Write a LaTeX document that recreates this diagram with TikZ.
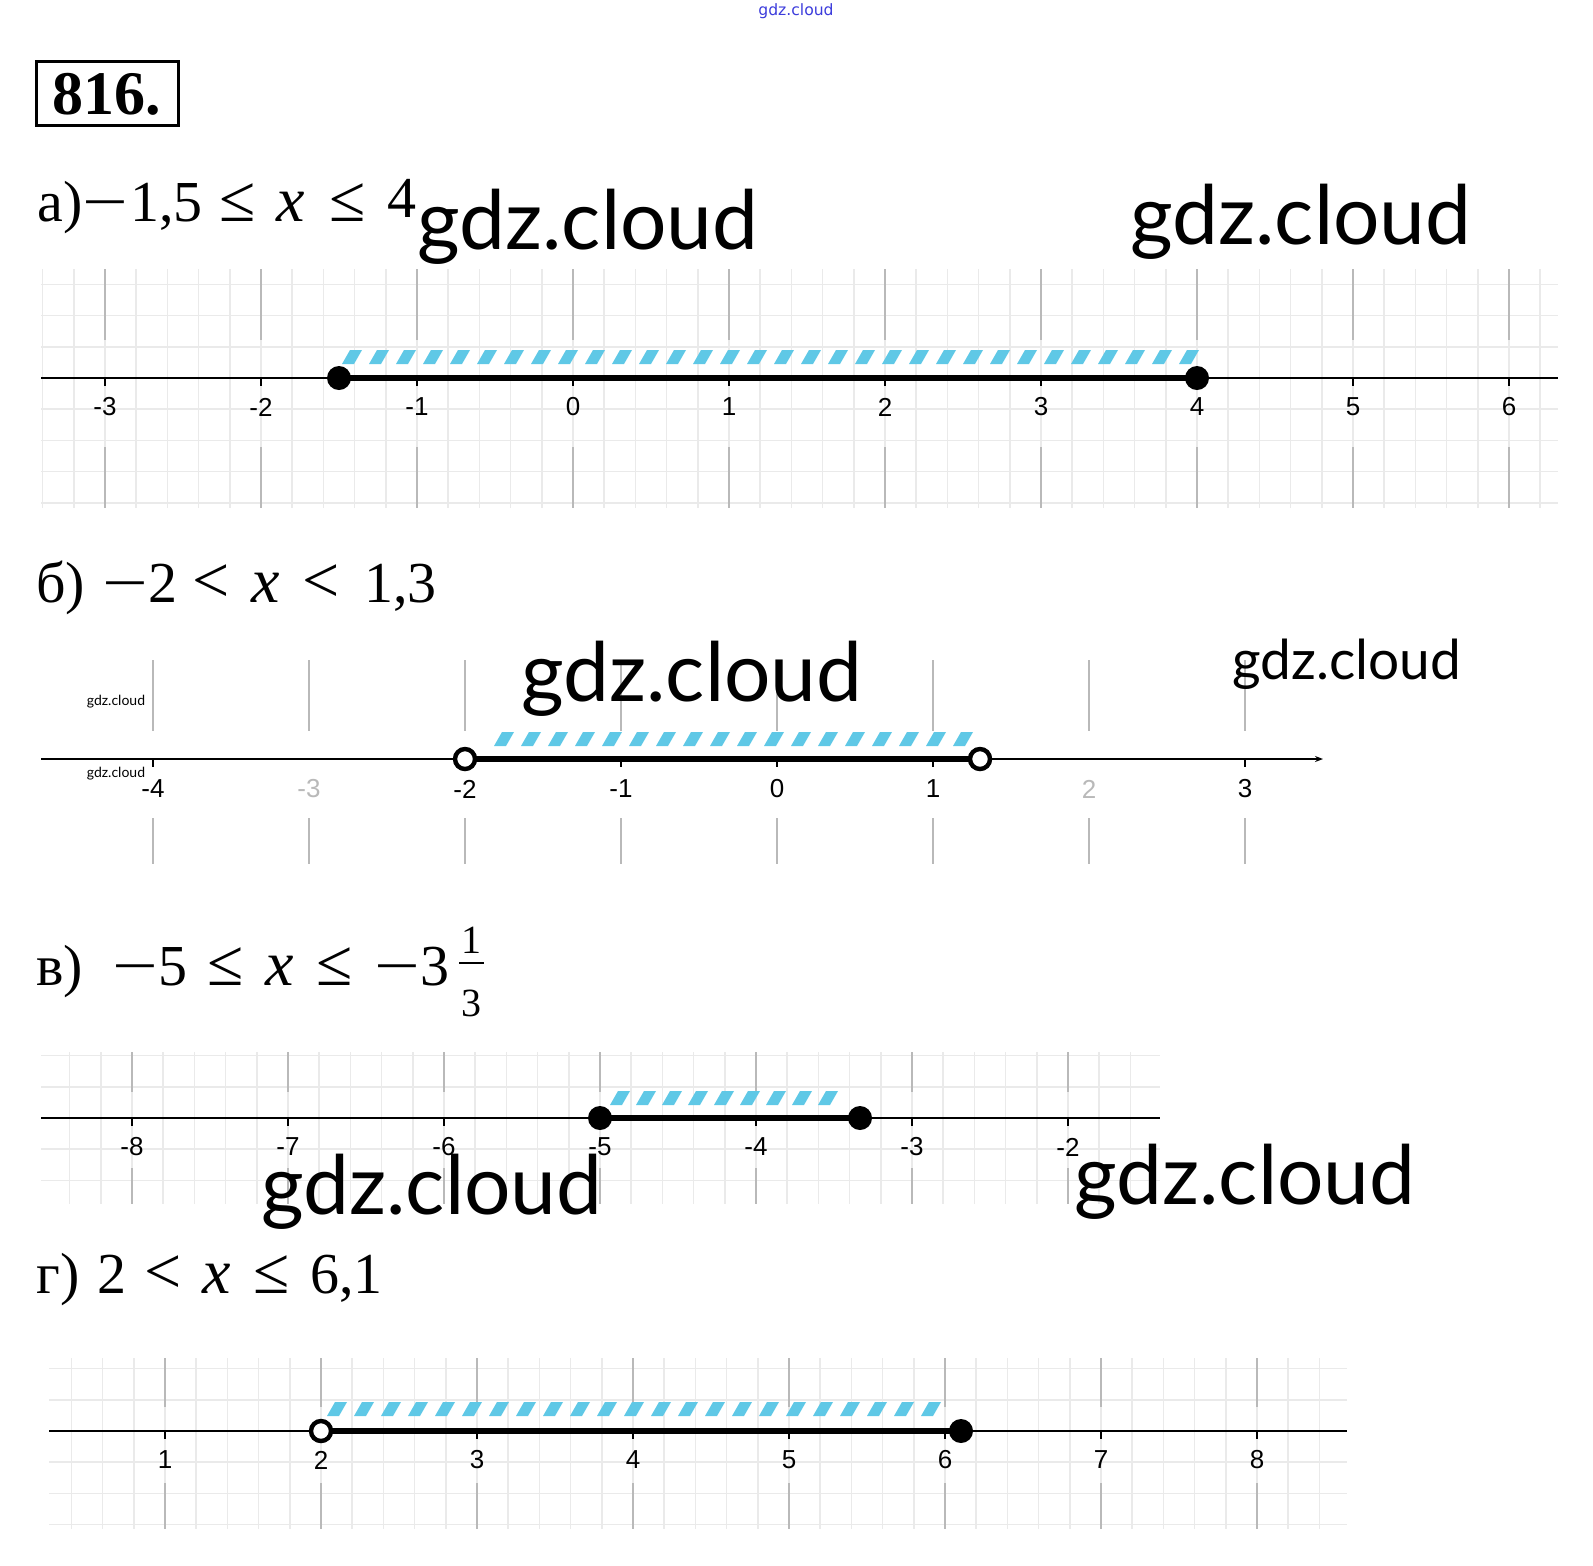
\documentclass[tikz,border=0pt]{standalone}
\usepackage{fontspec}
\usepackage{graphicx}
\setmainfont{Liberation Serif}
\newfontfamily\wmf{Lato}
\newfontfamily\labf{Liberation Sans}
\newfontfamily\topf{DejaVu Sans}
\usetikzlibrary{arrows.meta}
\definecolor{hatchc}{RGB}{95,200,230}
\definecolor{minorc}{RGB}{234,234,234}
\definecolor{majorc}{RGB}{185,185,185}
\definecolor{topblue}{RGB}{60,60,220}
\newcommand\wmin{\scalebox{1.4}[1]{−}}
\newcommand\gridbox[6]{%
  \begin{scope}
    \clip (#1,#3) rectangle (#2,#4);
    \foreach \k in {-60,...,60} \draw[minorl] ({#6+\k*31.2},#3) -- ({#6+\k*31.2},#4);
    \foreach \k in {-6,...,6} \draw[minorl] (#1,{#5+\k*31.2}) -- (#2,{#5+\k*31.2});
  \end{scope}}
% #1 spacing, #2 y, #3 first dash x, #4 number of dashes-1
\newcommand\hatchrow[4]{%
  \foreach \i in {0,...,#4} {%
    \pgfmathsetmacro\hx{#3+#1*\i}
    \fill[hatchc] (\hx,#2+7) -- (\hx+12,#2+7) -- (\hx+20,#2-7) -- (\hx+8,#2-7) -- cycle;
  }}
\begin{document}
\begin{tikzpicture}[x=0.5pt,y=-0.5pt,
  minorl/.style={draw=minorc,line width=0.75pt},
  majorl/.style={draw=majorc,line width=1.4pt},
  axisl/.style={draw=black,line width=1.4pt},
  segl/.style={draw=black,line width=2.8pt},
  tickl/.style={draw=black,line width=1pt},
  lbl/.style={font=\labf\fontsize{13pt}{14pt}\selectfont,inner sep=0pt},
  hd/.style={font=\fontsize{29pt}{32pt}\selectfont,inner sep=0pt,anchor=base west},
  hrel/.style={font=\fontsize{33pt}{36pt}\selectfont,inner sep=0pt,anchor=base west},
  hx/.style={font=\itshape\fontsize{32pt}{36pt}\selectfont,inner sep=0pt,anchor=base west},
  wm/.style={font=\wmf\fontsize{41pt}{44pt}\selectfont,inner sep=0pt,anchor=base west},
  fdot/.style={circle,fill=black,inner sep=0pt,minimum size=12pt},
  odot/.style={circle,draw=black,fill=white,line width=2.2pt,inner sep=0pt,minimum size=10pt}]
\useasboundingbox (0,0) rectangle (1593,1565);
\fill[white] (0,0) rectangle (1593,1565);

% top watermark
\node[font=\topf\fontsize{7.8pt}{9pt}\selectfont,text=topblue,inner sep=0pt] (wtop) at (796,11) {gdz.cloud};

% header box
\draw[line width=1.5pt] (36,61) rectangle (178,125);
\node[font=\bfseries\fontsize{31pt}{34pt}\selectfont,inner sep=0pt] (num) at (107,94) {816.};

% ---------- panel a ----------
\node[hd] (ha1) at (37,221) {а)};
\node[hd] (ha2) at (82,221) {\wmin};
\node[hd] (ha3) at (130,221) {1,5};
\node[hrel] (ha4) at (219,221) {≤};
\node[hx] (ha5) at (276,221) {x};
\node[hrel] (ha6) at (329,221) {≤};
\node[hd] (ha7) at (387,217) {4};
\gridbox{41}{1558}{269}{508}{378}{573}
\foreach \v in {-3,...,6} {
  \draw[majorl] ({573+\v*156},269) -- ({573+\v*156},340);
  \draw[majorl] ({573+\v*156},447) -- ({573+\v*156},508);
}
\draw[axisl] (41,378) -- (1558,378);
\foreach \v in {-3,...,6} {
  \draw[tickl] ({573+\v*156},378) -- ({573+\v*156},386);
  \node[lbl] (ta\v) at ({573+\v*156},407) {\v};
}
\hatchrow{27}{357}{342}{31}
\draw[segl] (339,378) -- (1197,378);
\node[fdot] (a1) at (339,378) {};
\node[fdot] (a2) at (1197,378) {};
\node[wm] (w1) at (417,249) {gdz.cloud};
\node[wm] (w2) at (1130,244) {gdz.cloud};

% ---------- panel b ----------
\node[hd] (hb1) at (36,602) {б)};
\node[hd] (hb2) at (102,602) {\wmin2};
\node[hrel] (hb3) at (192,602) {<};
\node[hx] (hb4) at (251,602) {x};
\node[hrel] (hb5) at (302,602) {<};
\node[hd] (hb6) at (364,602) {1,3};
\foreach \v in {-4,...,3} {
  \draw[majorl] ({777+\v*156},660) -- ({777+\v*156},731);
  \draw[majorl] ({777+\v*156},818) -- ({777+\v*156},864);
}
\draw[axisl,-{Stealth[length=4pt,width=3pt]}] (41,759) -- (1323,759);
\foreach \v in {-4,-2,-1,0,1,3} {
  \draw[tickl] ({777+\v*156},759) -- ({777+\v*156},767);
  \node[lbl] (tb\v) at ({777+\v*156},789) {\v};
}
\node[lbl,text=majorc] (tbm3) at (309,789) {-3};
\node[lbl,text=majorc] (tb2) at (1089,789) {2};
\hatchrow{27}{739}{494}{17}
\draw[segl] (465,759) -- (980,759);
\node[odot] (b1) at (465,759) {};
\node[odot] (b2) at (980,759) {};
\node[font=\wmf\fontsize{7pt}{8pt}\selectfont,inner sep=0pt] (w3) at (116,702) {gdz.cloud};
\node[font=\wmf\fontsize{7pt}{8pt}\selectfont,inner sep=0pt] (w4) at (116,774) {gdz.cloud};
\node[wm] (w5) at (521,701) {gdz.cloud};
\node[wm,font=\wmf\fontsize{27.5pt}{30pt}\selectfont] (w6) at (1232,679) {gdz.cloud};

% ---------- panel v ----------
\node[hd] (hv1) at (36,985) {в)};
\node[hd] (hv2) at (112,985) {\wmin5};
\node[hrel] (hv3) at (207,985) {≤};
\node[hx] (hv4) at (265,985) {x};
\node[hrel] (hv5) at (316,985) {≤};
\node[hd] (hv6) at (374,985) {\wmin3};
\node[font=\fontsize{20pt}{22pt}\selectfont,inner sep=0pt,anchor=base] (f1) at (471,953) {1};
\node[font=\fontsize{20pt}{22pt}\selectfont,inner sep=0pt,anchor=base] (f3) at (471,1016) {3};
\draw[line width=1.3pt] (459,963) -- (484,963);
\gridbox{41}{1160}{1052}{1204}{1118}{1380}
\foreach \v in {-8,...,-2} {
  \draw[majorl] ({1380+\v*156},1052) -- ({1380+\v*156},1092);
  \draw[majorl] ({1380+\v*156},1168) -- ({1380+\v*156},1204);
}
\draw[axisl] (41,1118) -- (1160,1118);
\foreach \v in {-8,...,-2} {
  \draw[tickl] ({1380+\v*156},1118) -- ({1380+\v*156},1126);
  \node[lbl] (tv\v) at ({1380+\v*156},1147) {\v};
}
\hatchrow{26}{1098}{610}{8}
\draw[segl] (600,1118) -- (860,1118);
\node[fdot] (v1) at (600,1118) {};
\node[fdot] (v2) at (860,1118) {};
\node[wm] (w7) at (261,1214) {gdz.cloud};
\node[wm] (w8) at (1074,1204) {gdz.cloud};

% ---------- panel g ----------
\node[hd] (hg1) at (36,1293) {г)};
\node[hd] (hg2) at (97,1293) {2};
\node[hrel] (hg3) at (144,1293) {<};
\node[hx] (hg4) at (202,1293) {x};
\node[hrel] (hg5) at (253,1293) {≤};
\node[hd] (hg6) at (310,1293) {6,1};
\gridbox{49}{1347}{1358}{1529}{1431}{9}
\foreach \v in {1,...,8} {
  \draw[majorl] ({9+\v*156},1358) -- ({9+\v*156},1407);
  \draw[majorl] ({9+\v*156},1483) -- ({9+\v*156},1529);
}
\draw[axisl] (49,1431) -- (1347,1431);
\foreach \v in {1,...,8} {
  \draw[tickl] ({9+\v*156},1431) -- ({9+\v*156},1439);
  \node[lbl] (tg\v) at ({9+\v*156},1460) {\v};
}
\hatchrow{27}{1409}{327}{22}
\draw[segl] (321,1431) -- (961,1431);
\node[odot] (g1) at (321,1431) {};
\node[fdot] (g2) at (961,1431) {};
\end{tikzpicture}
\end{document}
